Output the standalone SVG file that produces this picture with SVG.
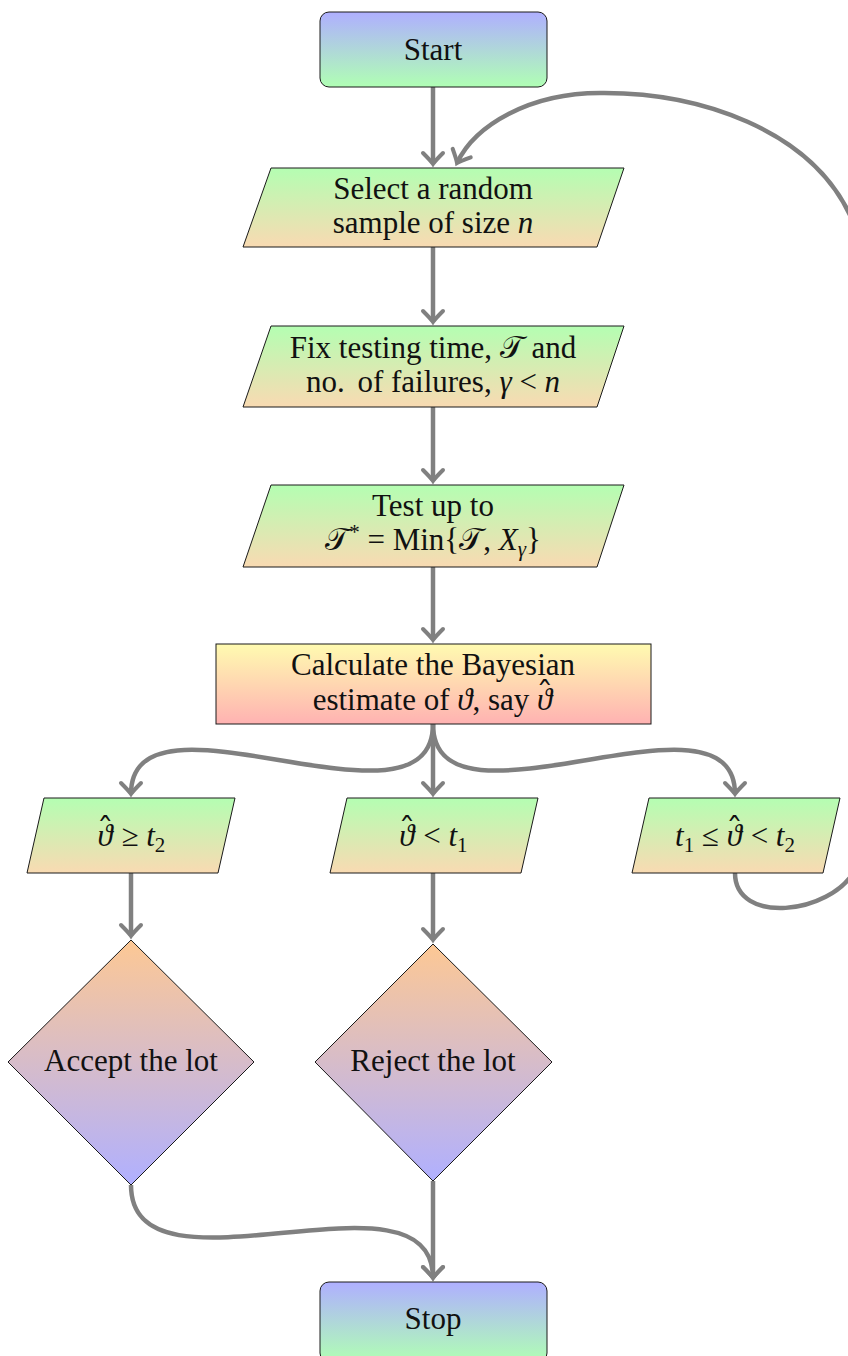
<svg xmlns="http://www.w3.org/2000/svg" width="848" height="1356" viewBox="0 0 848 1356">
<defs>
<linearGradient id="gTerm" x1="0" y1="0" x2="0" y2="1"><stop offset="0" stop-color="#afafff"/><stop offset="1" stop-color="#b0ffb4"/></linearGradient>
<linearGradient id="gPar" x1="0" y1="0" x2="0" y2="1"><stop offset="0" stop-color="#b4feb2"/><stop offset="1" stop-color="#f9dab2"/></linearGradient>
<linearGradient id="gProc" x1="0" y1="0" x2="0" y2="1"><stop offset="0" stop-color="#fffbb0"/><stop offset="1" stop-color="#ffb2b2"/></linearGradient>
<linearGradient id="gDec" x1="0" y1="0" x2="0" y2="1"><stop offset="0" stop-color="#fdc894"/><stop offset="1" stop-color="#b0b0ff"/></linearGradient>
<marker id="arr" markerUnits="userSpaceOnUse" markerWidth="30" markerHeight="30" viewBox="-15 -15 30 30" refX="0" refY="0" orient="auto">
<path d="M -11 -10 Q -3 -2 0 0 Q -3 2 -11 10" fill="none" stroke="#808080" stroke-width="4" stroke-linecap="round"/>
</marker>
<style>
.node{stroke:#1a1a1a;stroke-width:1}
.t{font-family:"Liberation Serif","DejaVu Serif",serif;font-size:31px;fill:#111;text-anchor:middle}
.it{font-style:italic}
.sub{font-size:21px}
.hat{font-family:"DejaVu Serif",serif;font-size:34px;font-style:normal}
.c{fill:none;stroke:#808080;stroke-width:4.5}
</style>
</defs>

<g id="connectors">
<path class="c" d="M433 87 V164" marker-end="url(#arr)"/>
<path class="c" d="M433 247 V322" marker-end="url(#arr)"/>
<path class="c" d="M433 407 V481" marker-end="url(#arr)"/>
<path class="c" d="M433 567 V640" marker-end="url(#arr)"/>
<path class="c" d="M433 724 C433 846 131 676 131 794" marker-end="url(#arr)"/>
<path class="c" d="M433 724 V794" marker-end="url(#arr)"/>
<path class="c" d="M433 724 C433 846 735 676 735 794" marker-end="url(#arr)"/>
<path class="c" d="M131 873 V936" marker-end="url(#arr)"/>
<path class="c" d="M433 873 V940" marker-end="url(#arr)"/>
<path class="c" d="M735 873 C735 925 830 915 855 870 C895 780 900 330 850 215 C810 130 700 92 600 93 C530 93 475 125 457 163" marker-end="url(#arr)"/>
<path class="c" d="M131 1185 C131 1309 433 1158 433 1278" marker-end="url(#arr)"/>
<path class="c" d="M433 1181 V1278" marker-end="url(#arr)"/>
</g>

<g id="start">
<rect class="node" x="320" y="12" width="227" height="75" rx="9" fill="url(#gTerm)"/>
<text class="t" x="433" y="60">Start</text>
</g>

<g id="select">
<polygon class="node" points="271,168 624,168 597,247 243,247" fill="url(#gPar)"/>
<text class="t" x="433" y="199">Select a random</text>
<text class="t" x="433" y="233">sample of size <tspan class="it">n</tspan></text>
</g>

<g id="fix">
<polygon class="node" points="271,326 624,326 597,407 243,407" fill="url(#gPar)"/>
<text class="t" x="433" y="358">Fix testing time, 𝒯 and</text>
<text class="t" x="433" y="392">no.<tspan dx="5"> of failures, </tspan><tspan class="it">γ</tspan> &lt; <tspan class="it">n</tspan></text>
</g>

<g id="test">
<polygon class="node" points="271,485 624,485 597,567 243,567" fill="url(#gPar)"/>
<text class="t" x="433" y="516">Test up to</text>
<text class="t" x="433" y="550">𝒯<tspan class="sub" dy="-11">*</tspan><tspan dy="11"> = Min{𝒯, </tspan><tspan class="it">X</tspan><tspan class="sub it" dy="6">γ</tspan><tspan dy="-6">}</tspan></text>
</g>

<g id="calc">
<rect class="node" x="216" y="644" width="435" height="80" fill="url(#gProc)"/>
<text class="t" x="433" y="675">Calculate the Bayesian</text>
<text class="t" x="433" y="710">estimate of <tspan class="it">ϑ</tspan>, say <tspan class="it">ϑ</tspan><tspan class="hat" dx="-16" dy="-4">ˆ</tspan><tspan dx="0" dy="4"></tspan></text>
</g>

<g id="cond-high">
<polygon class="node" points="44,798 235,798 218,873 27,873" fill="url(#gPar)"/>
<text class="t" x="131" y="846"><tspan class="it">ϑ</tspan><tspan class="hat" dx="-16" dy="-4">ˆ</tspan><tspan dy="4"> ≥ </tspan><tspan class="it">t</tspan><tspan class="sub" dy="6">2</tspan></text>
</g>

<g id="cond-low">
<polygon class="node" points="347,798 538,798 521,873 330,873" fill="url(#gPar)"/>
<text class="t" x="433" y="846"><tspan class="it">ϑ</tspan><tspan class="hat" dx="-16" dy="-4">ˆ</tspan><tspan dy="4"> &lt; </tspan><tspan class="it">t</tspan><tspan class="sub" dy="6">1</tspan></text>
</g>

<g id="cond-mid">
<polygon class="node" points="649,798 840,798 823,873 632,873" fill="url(#gPar)"/>
<text class="t" x="735" y="846"><tspan class="it">t</tspan><tspan class="sub" dy="6">1</tspan><tspan dy="-6"> ≤ </tspan><tspan class="it">ϑ</tspan><tspan class="hat" dx="-16" dy="-4">ˆ</tspan><tspan dy="4"> &lt; </tspan><tspan class="it">t</tspan><tspan class="sub" dy="6">2</tspan></text>
</g>

<g id="accept">
<polygon class="node" points="131,940 254,1062 131,1185 8,1062" fill="url(#gDec)"/>
<text class="t" x="131" y="1071">Accept the lot</text>
</g>

<g id="reject">
<polygon class="node" points="433,944 552,1062 433,1181 315,1062" fill="url(#gDec)"/>
<text class="t" x="433" y="1071">Reject the lot</text>
</g>

<g id="stop">
<rect class="node" x="320" y="1282" width="227" height="80" rx="9" fill="url(#gTerm)"/>
<text class="t" x="433" y="1329">Stop</text>
</g>
</svg>
